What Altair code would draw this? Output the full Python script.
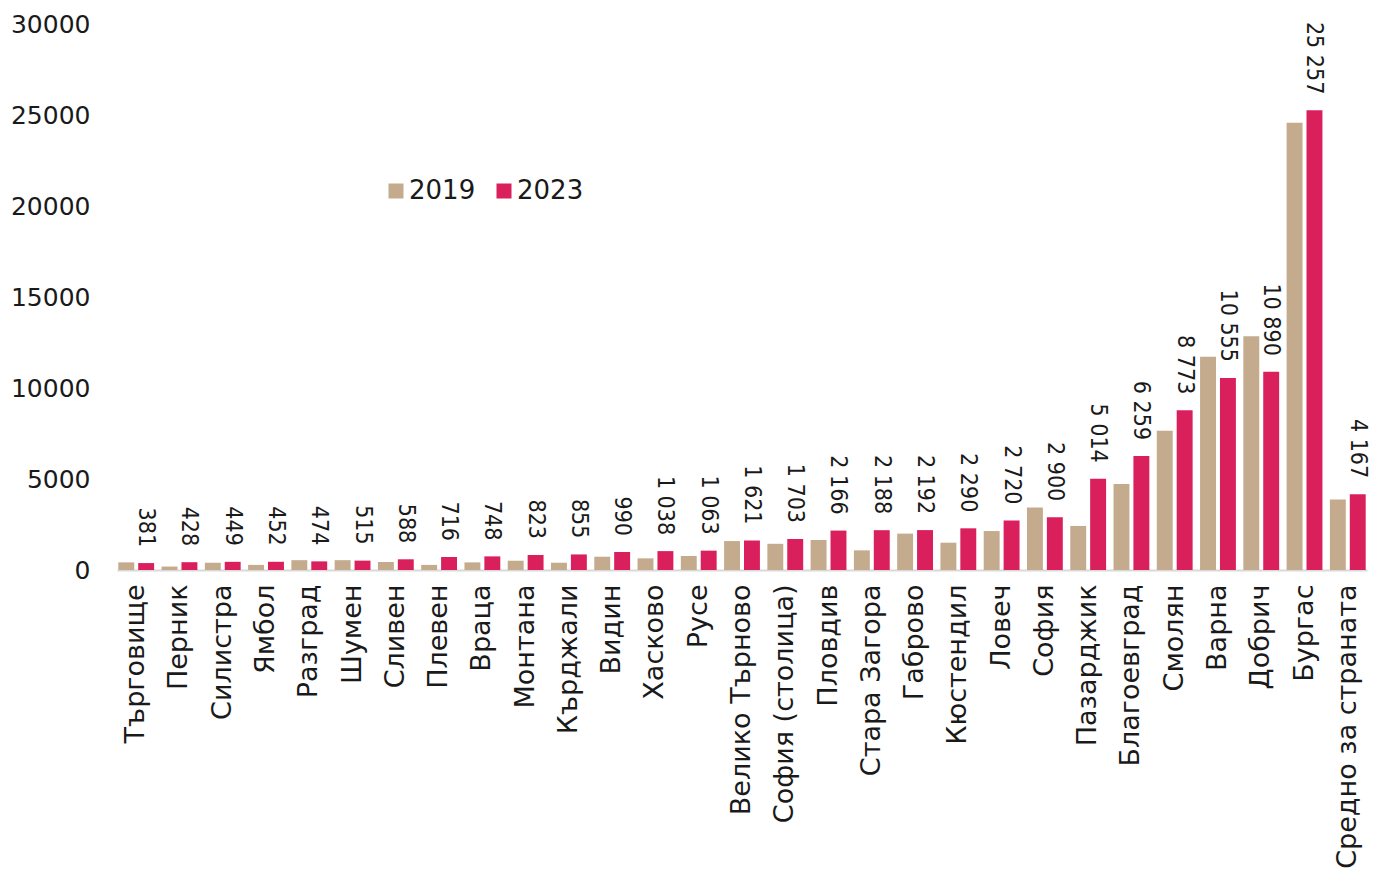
import altair as alt
import pandas as pd

categories = ["Търговище", "Перник", "Силистра", "Ямбол", "Разград", "Шумен", "Сливен",
              "Плевен", "Враца", "Монтана", "Кърджали", "Видин", "Хасково", "Русе",
              "Велико Търново", "София (столица)", "Пловдив", "Стара Загора", "Габрово",
              "Кюстендил", "Ловеч", "София", "Пазарджик", "Благоевград", "Смолян",
              "Варна", "Добрич", "Бургас", "Средно за страната"]

values_2019 = [420, 190, 400, 280, 540, 540, 440, 280, 420, 510, 400, 730, 640, 770,
               1590, 1440, 1650, 1080, 2000, 1500, 2140, 3440, 2420, 4720, 7650,
               11720, 12840, 24580, 3880]

values_2023 = [381, 428, 449, 452, 474, 515, 588, 716, 748, 823, 855, 990, 1038, 1063,
               1621, 1703, 2166, 2188, 2192, 2290, 2720, 2900, 5014, 6259, 8773,
               10555, 10890, 25257, 4167]

years = ["2019", "2023"]
colors = ["#C4AB8E", "#D91F5C"]

rows = []
for c, v in zip(categories, values_2019):
    rows.append({"Област": c, "Година": "2019", "Стойност": v, "Етикет": ""})
for c, v in zip(categories, values_2023):
    rows.append({"Област": c, "Година": "2023", "Стойност": v,
                 "Етикет": f"{v:,}".replace(",", " ")})
df = pd.DataFrame(rows)

x_enc = alt.X("Област:N", sort=categories,
              scale=alt.Scale(paddingInner=0.172, paddingOuter=0.03),
              axis=alt.Axis(title=None, labelAngle=-90, labelAlign="right",
                            labelBaseline="middle", labelPadding=14, ticks=False,
                            domainColor="#d9d9d9", domainWidth=2,
                            labelFont="DejaVu Sans", labelFontSize=27,
                            labelColor="#1a1a1a", labelLimit=400))
xoff = alt.XOffset("Година:N", scale=alt.Scale(domain=years, paddingInner=0.2))
y_enc = alt.Y("Стойност:Q",
              scale=alt.Scale(domain=[0, 30000], nice=False),
              axis=alt.Axis(title=None, values=[0, 5000, 10000, 15000, 20000, 25000, 30000],
                            format="d", grid=False, domain=False, ticks=False,
                            labelPadding=27, labelFont="DejaVu Sans", labelFontSize=25,
                            labelColor="#1a1a1a"))

bars = alt.Chart(df).mark_bar().encode(
    x=x_enc,
    xOffset=xoff,
    y=y_enc,
    color=alt.Color("Година:N", scale=alt.Scale(domain=years, range=colors),
                    legend=alt.Legend(title=None, orient="none", direction="horizontal",
                                      legendX=266, legendY=154, symbolType="square",
                                      symbolSize=225, symbolStrokeWidth=0,
                                      labelFont="DejaVu Sans", labelFontSize=26,
                                      labelColor="#1a1a1a", labelOffset=0,
                                      columnPadding=15)),
)

labels = alt.Chart(df).transform_filter(alt.datum["Година"] == "2023").mark_text(
    angle=90, align="right", baseline="middle", yOffset=-16, xOffset=-3,
    font="Liberation Sans Narrow, DejaVu Sans Condensed, Liberation Sans",
    fontSize=23, color="#1a1a1a"
).encode(
    x=alt.X("Област:N", sort=categories),
    xOffset=alt.XOffset("Година:N"),
    y=alt.Y("Стойност:Q"),
    text="Етикет:N",
)

chart = alt.layer(bars, labels).properties(
    width=1250, height=546,
    autosize=alt.AutoSizeParams(type="none"),
    padding={"left": 109, "top": 16, "right": 3, "bottom": 308},
    background="white",
).configure_view(stroke=None)

chart.save("out.html", embed_options={"renderer": "svg", "actions": False})
